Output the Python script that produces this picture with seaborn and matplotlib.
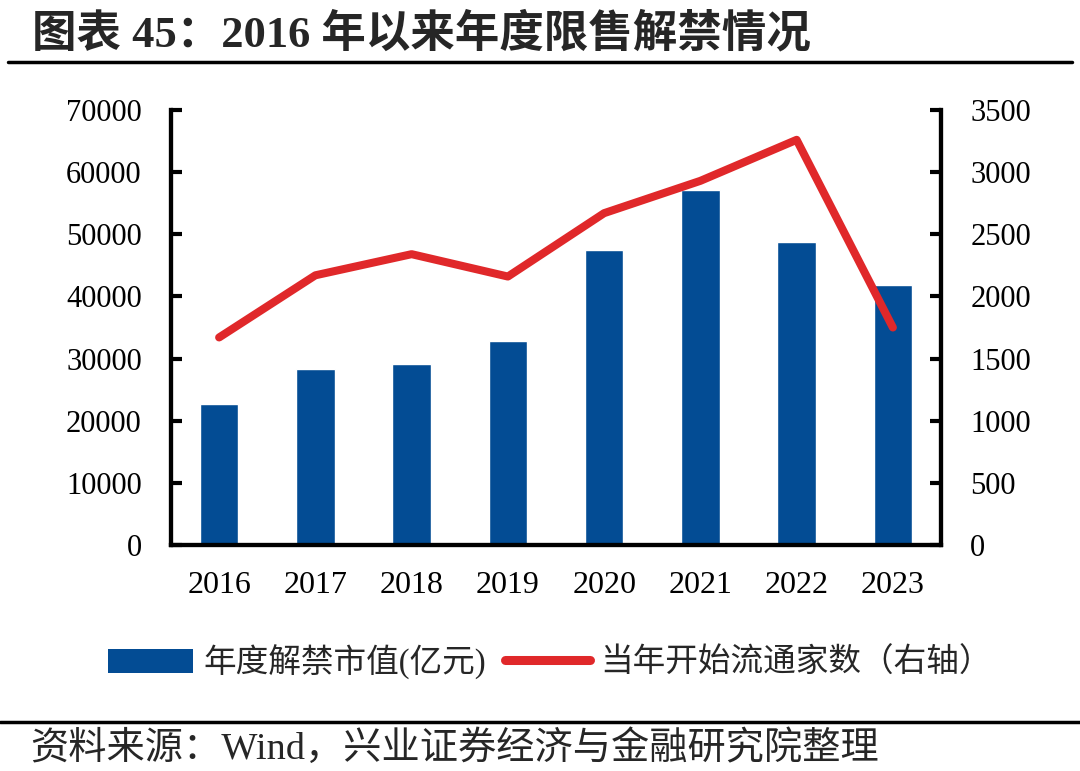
import matplotlib
matplotlib.use("Agg")
import matplotlib.pyplot as plt
import seaborn as sns
import numpy as np
import pandas as pd
from matplotlib.lines import Line2D
from matplotlib.patches import Patch

years = ["2016", "2017", "2018", "2019", "2020", "2021", "2022", "2023"]
unlock_value = [22700, 28300, 29100, 32800, 47400, 57100, 48800, 41800]
new_float_count = [1670, 2170, 2340, 2160, 2670, 2930, 3260, 1750]
left_ticks = [0, 10000, 20000, 30000, 40000, 50000, 60000, 70000]
right_ticks = [0, 500, 1000, 1500, 2000, 2500, 3000, 3500]

title = "图表 45：2016 年以来年度限售解禁情况"
bar_label = "年度解禁市值(亿元)"
line_label = "当年开始流通家数（右轴）"
source = "资料来源：Wind，兴业证券经济与金融研究院整理"

sns.set_theme(style="white")
serif = ["Liberation Serif", "Noto Sans CJK SC", "DejaVu Sans"]
plt.rcParams["font.family"] = serif

BLUE = "#034C94"
RED = "#E0282A"

df = pd.DataFrame({"year": years, "value": unlock_value})

fig = plt.figure(figsize=(10.8, 7.71), dpi=100)
ax = fig.add_axes([171/1080, 1-545/771, (941-171)/1080, (545-110)/771])
sns.barplot(data=df, x="year", y="value", color=BLUE, width=0.4, saturation=1, ax=ax)
ax.set_xlim(-0.5, len(years) - 0.5)
ax.set_ylim(0, 70000)
ax.set_yticks(left_ticks)
ax.set_yticklabels([str(t) for t in left_ticks])
ax.set_xlabel("")
ax.set_ylabel("")

ax2 = ax.twinx()
sns.lineplot(x=np.arange(len(years)), y=new_float_count, color=RED, linewidth=5.8, ax=ax2)
ax2.set_ylim(0, 3500)
ax2.set_yticks(right_ticks)
ax2.set_yticklabels([str(t) for t in right_ticks])
ax2.set_xlim(-0.5, len(years) - 0.5)
ax2.set_ylabel("")

for a in (ax, ax2):
    a.spines["top"].set_visible(False)
    for s in ("left", "right", "bottom"):
        a.spines[s].set_linewidth(3)
        a.spines[s].set_color("black")
    a.tick_params(axis="y", direction="in", length=8, width=3, labelsize=22, colors="black", pad=21)
    a.tick_params(axis="x", length=0, labelsize=23, pad=19, colors="black")
    for lab in a.get_yticklabels() + a.get_xticklabels():
        lab.set_family(serif)
ax.tick_params(axis="y", left=True, right=False)
ax2.tick_params(axis="y", right=True, left=False)
ax.grid(False)
ax2.grid(False)

# title and rules
fig.text(32/1080, 1-34/771, title, fontsize=32, fontweight="bold", family=["Liberation Serif", "Noto Sans CJK SC"], va="center", ha="left")
fig.add_artist(Line2D([8/1080, 1072/1080], [1-62/771, 1-62/771], color="black", linewidth=2.5))
fig.add_artist(Line2D([0/1080, 1080/1080], [1-722/771, 1-722/771], color="black", linewidth=2.5))
fig.text(30/1080, 1-749/771, source, fontsize=27.5, family=serif, va="center", ha="left")

handles = [Patch(facecolor=BLUE, edgecolor="none"), Line2D([0], [0], color=RED, linewidth=6.5, solid_capstyle="round")]
leg = fig.legend(handles, [bar_label, line_label], loc="center", bbox_to_anchor=(550/1080, 1-662/771), ncol=2,
                 frameon=False, handlelength=2.6, handleheight=0.8, handletextpad=0.3, columnspacing=0.6,
                 prop={"family": serif, "size": 23.5})

fig.savefig("out.png", dpi=100)
